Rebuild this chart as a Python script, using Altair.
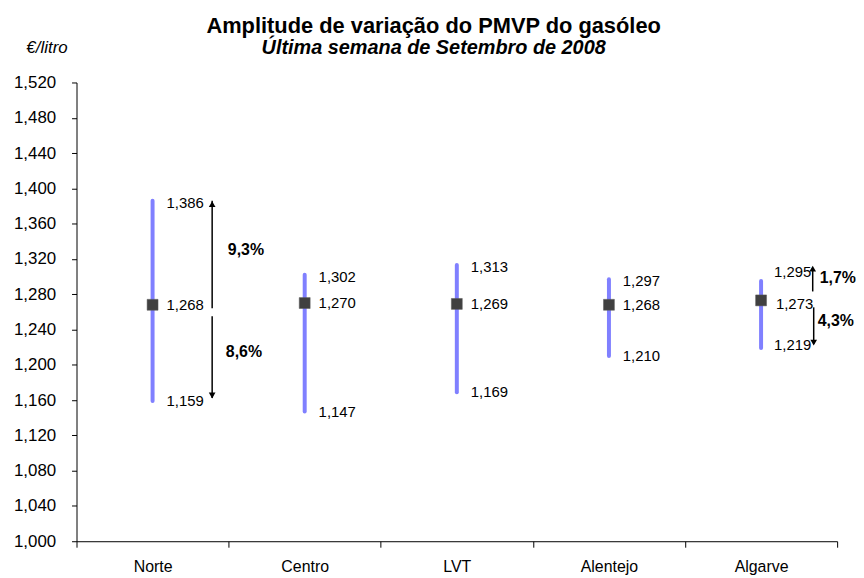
import altair as alt
import pandas as pd

FONT = "Liberation Sans"

regions = ["Norte", "Centro", "LVT", "Alentejo", "Algarve"]
max_vals = [1.386, 1.302, 1.313, 1.297, 1.295]
mean_vals = [1.268, 1.270, 1.269, 1.268, 1.273]
min_vals = [1.159, 1.147, 1.169, 1.210, 1.219]
max_labels = ["1,386", "1,302", "1,313", "1,297", "1,295"]
mean_labels = ["1,268", "1,270", "1,269", "1,268", "1,273"]
min_labels = ["1,159", "1,147", "1,169", "1,210", "1,219"]

y_ticks = [1.000, 1.040, 1.080, 1.120, 1.160, 1.200, 1.240, 1.280,
           1.320, 1.360, 1.400, 1.440, 1.480, 1.520]

pct_regions = ["Norte", "Algarve"]
pct_up = ["9,3%", "1,7%"]
pct_down = ["8,6%", "4,3%"]

df = pd.DataFrame({
    "region": regions,
    "max": max_vals,
    "mean": mean_vals,
    "min": min_vals,
    "max_label": max_labels,
    "mean_label": mean_labels,
    "min_label": min_labels,
})
pct_df = pd.DataFrame({"region": pct_regions, "pct_up": pct_up, "pct_down": pct_down})
df = df.merge(pct_df, on="region", how="left")
df["mid_up"] = (df["max"] + df["mean"]) / 2
df["mid_down"] = (df["min"] + df["mean"]) / 2

yscale = alt.Scale(domain=[1.0, 1.52], nice=False, zero=False)
yaxis = alt.Axis(
    values=y_ticks,
    labelExpr="replace(format(datum.value, '.3f'), '.', ',')",
    title="€/litro", titleAngle=0, titleX=-51, titleY=-35,
    titleAlign="left", titleBaseline="middle", titleFontStyle="italic",
    titleFontWeight="normal", titleFontSize=17, titleFont=FONT, titleColor="#000",
    labelFontSize=17, labelFont=FONT, labelColor="#000", labelPadding=16,
    tickSize=5, tickColor="#000", domainColor="#000", grid=False,
)
xaxis = alt.Axis(
    title=None, labelAngle=0, tickBand="extent", labelFontSize=16,
    labelFont=FONT, labelColor="#000", labelPadding=11, tickSize=6,
    tickColor="#000", domainColor="#000", grid=False,
)
X = alt.X("region:N", sort=regions,
          scale=alt.Scale(domain=regions, paddingInner=0, paddingOuter=0),
          axis=xaxis)


def Y(field):
    return alt.Y(f"{field}:Q", scale=yscale, axis=yaxis)


base = alt.Chart(df)

rng = base.mark_rule(strokeWidth=4, strokeCap="round", color="#8080FF").encode(
    x=X, y=Y("min"), y2="max:Q")

sq = base.mark_point(shape="square", size=121, filled=True, color="#404040",
                     opacity=1, stroke="#5a5a5a", strokeWidth=0.5).encode(x=X, y=Y("mean"))

txt = dict(align="left", baseline="middle", fontSize=15, font=FONT, color="#000")
not_alg = alt.datum.region != "Algarve"
is_alg = alt.datum.region == "Algarve"

t_max = base.mark_text(dx=14, dy=2, **txt).encode(x=X, y=Y("max"), text="max_label:N").transform_filter(not_alg)
t_mean = base.mark_text(dx=14, dy=0, **txt).encode(x=X, y=Y("mean"), text="mean_label:N").transform_filter(not_alg)
t_min = base.mark_text(dx=14, dy=0, **txt).encode(x=X, y=Y("min"), text="min_label:N").transform_filter(not_alg)
a_max = base.mark_text(dx=13, dy=-9, **txt).encode(x=X, y=Y("max"), text="max_label:N").transform_filter(is_alg)
a_mean = base.mark_text(dx=15, dy=4, **txt).encode(x=X, y=Y("mean"), text="mean_label:N").transform_filter(is_alg)
a_min = base.mark_text(dx=13, dy=-3, **txt).encode(x=X, y=Y("min"), text="min_label:N").transform_filter(is_alg)

norte = alt.datum.region == "Norte"
ar = dict(color="#000", strokeWidth=1.5)
tri = dict(filled=True, color="#000", size=45, opacity=1)

n_up = base.mark_rule(xOffset=60, y2Offset=3.5, **ar).encode(x=X, y=Y("max"), y2="mean:Q").transform_filter(norte)
n_up_h = base.mark_point(shape="triangle-up", xOffset=60, yOffset=3.5, **tri).encode(x=X, y=Y("max")).transform_filter(norte)
n_dn = base.mark_rule(xOffset=60, yOffset=11.5, y2Offset=-3, **ar).encode(x=X, y=Y("mean"), y2="min:Q").transform_filter(norte)
n_dn_h = base.mark_point(shape="triangle-down", xOffset=60, yOffset=-5.5, **tri).encode(x=X, y=Y("min")).transform_filter(norte)

g_up = base.mark_rule(xOffset=52, yOffset=-13, y2Offset=-9, **ar).encode(x=X, y=Y("max"), y2="mean:Q").transform_filter(is_alg)
g_up_h = base.mark_point(shape="triangle-up", xOffset=52, yOffset=-12.5, **tri).encode(x=X, y=Y("max")).transform_filter(is_alg)
g_dn = base.mark_rule(xOffset=53, yOffset=7, y2Offset=-4, **ar).encode(x=X, y=Y("mean"), y2="min:Q").transform_filter(is_alg)
g_dn_h = base.mark_point(shape="triangle-down", xOffset=53, yOffset=-5.5, **tri).encode(x=X, y=Y("min")).transform_filter(is_alg)

ptxt = dict(fontSize=16, fontWeight="bold", font=FONT, color="#000", baseline="middle")
p_n_up = base.mark_text(align="center", dx=94, dy=-3, **ptxt).encode(x=X, y=Y("mid_up"), text="pct_up:N").transform_filter(norte)
p_n_dn = base.mark_text(align="center", dx=92, dy=-1, **ptxt).encode(x=X, y=Y("mid_down"), text="pct_down:N").transform_filter(norte)
p_g_up = base.mark_text(align="left", dx=59, dy=-13, **ptxt).encode(x=X, y=Y("mid_up"), text="pct_up:N").transform_filter(is_alg)
p_g_dn = base.mark_text(align="left", dx=57, dy=-3, **ptxt).encode(x=X, y=Y("mid_down"), text="pct_down:N").transform_filter(is_alg)

chart = alt.layer(
    rng, sq, t_max, t_mean, t_min, a_max, a_mean, a_min,
    n_up, n_up_h, n_dn, n_dn_h, g_up, g_up_h, g_dn, g_dn_h,
    p_n_up, p_n_dn, p_g_up, p_g_dn,
).properties(
    width=766, height=462,
    padding={"left": 5, "top": 5, "right": 0, "bottom": 0},
    title=alt.TitleParams(
        text="Amplitude de variação do PMVP do gasóleo",
        subtitle="Última semana de Setembro de 2008",
        font=FONT, fontSize=22, fontWeight="bold", color="#000",
        subtitleFont=FONT, subtitleFontSize=20, subtitleFontWeight="bold",
        subtitleFontStyle="italic", subtitleColor="#000", subtitlePadding=0,
        anchor="middle", frame="bounds", dx=-1, offset=-20,
    ),
).configure_view(stroke=None).configure_axis(grid=False)

chart.save("out.html", embed_options={"renderer": "svg", "actions": False})
